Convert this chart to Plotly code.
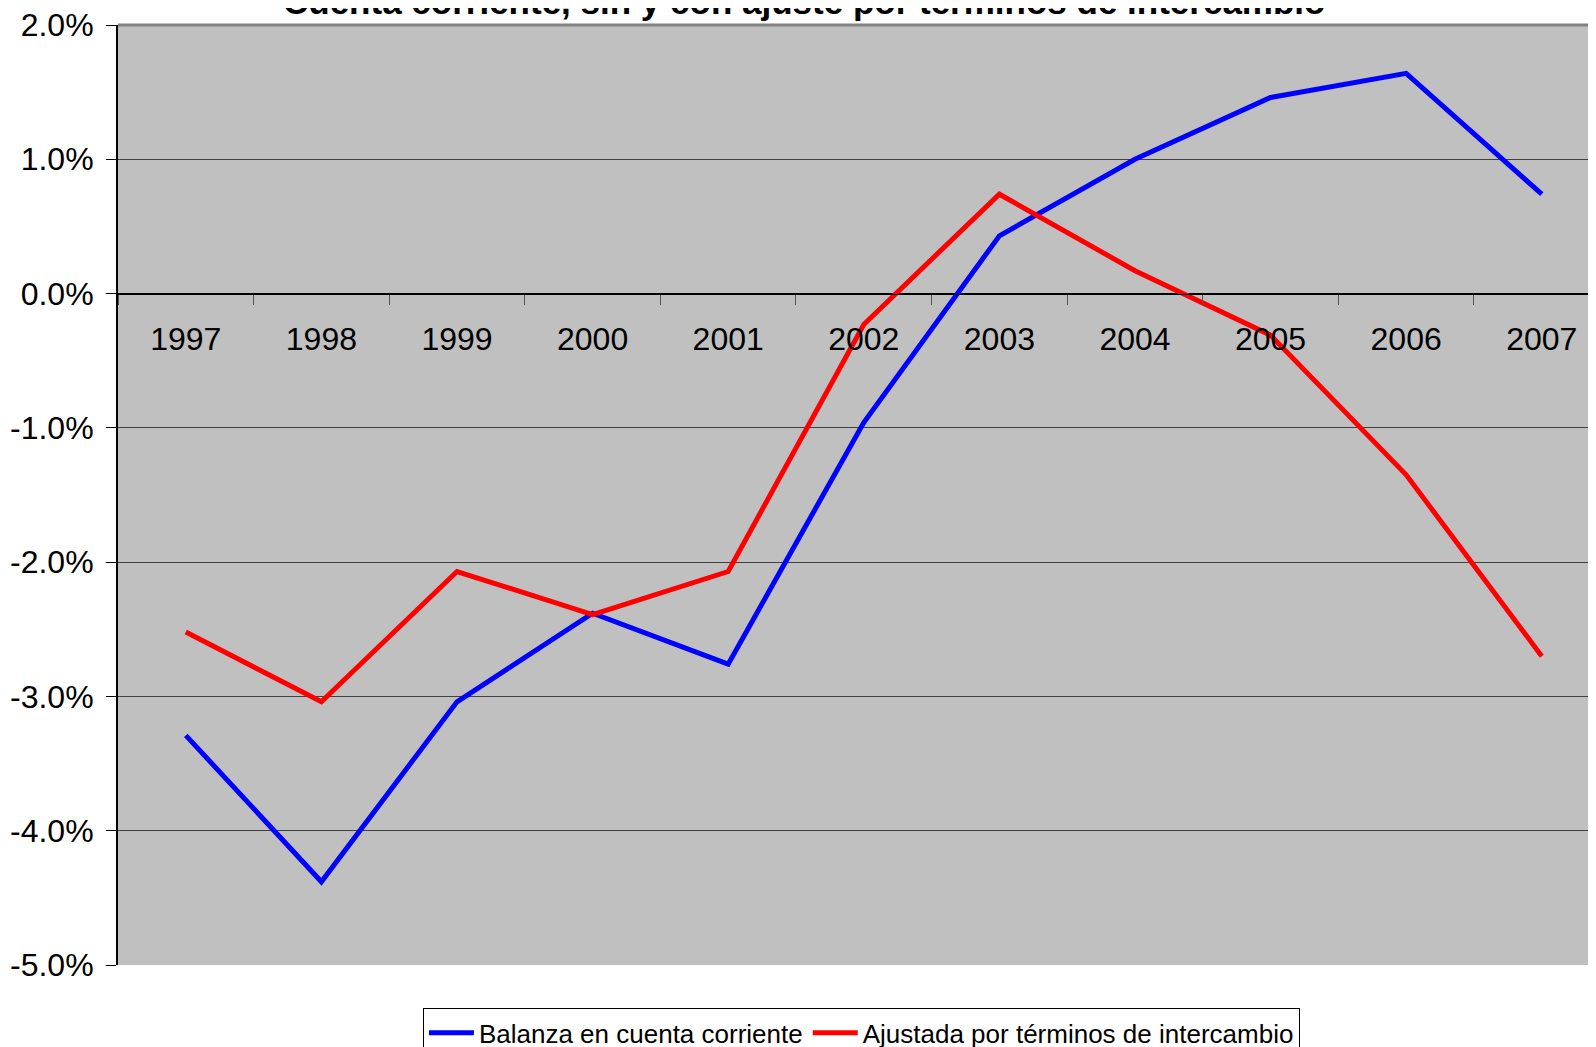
import plotly.graph_objects as go

# data (% of GDP)
years = ["1997", "1998", "1999", "2000", "2001", "2002", "2003", "2004", "2005", "2006", "2007"]
balanza = [-3.29, -4.38, -3.04, -2.38, -2.76, -0.96, 0.43, 1.00, 1.46, 1.64, 0.74]
ajustada = [-2.52, -3.04, -2.07, -2.39, -2.07, -0.23, 0.74, 0.17, -0.31, -1.35, -2.70]

y_ticks = [2, 1, 0, -1, -2, -3, -4, -5]
y_ticktext = ["2.0%", "1.0%", "0.0%", "-1.0%", "-2.0%", "-3.0%", "-4.0%", "-5.0%"]

FONT = "Arial, 'Liberation Sans', sans-serif"

fig = go.Figure()
fig.add_trace(go.Scatter(x=years, y=balanza, mode="lines",
                         name="Balanza en cuenta corriente",
                         line=dict(color="#0000FF", width=5)))
fig.add_trace(go.Scatter(x=years, y=ajustada, mode="lines",
                         name="Ajustada por términos de intercambio",
                         line=dict(color="#FF0000", width=5)))

# page body adds an 8px offset, so the figure is sized to fit the window
fig.update_layout(
    width=1588, height=1039,
    margin=dict(l=110, r=0, t=17, b=82, autoexpand=False),
    paper_bgcolor="white",
    plot_bgcolor="#C0C0C0",
    font=dict(family=FONT, color="black"),
    legend=dict(orientation="h", x=0.503, xanchor="center", y=-0.046, yanchor="top",
                bgcolor="white", bordercolor="black", borderwidth=1,
                itemwidth=45,
                font=dict(size=26, family=FONT, color="black")),
    showlegend=True,
)

# title sits half above the page, as in the reference
fig.add_annotation(text="<b>Cuenta corriente, sin y con ajuste por términos de intercambio</b>",
                   xref="paper", yref="paper", x=0.464, y=1.025,
                   xanchor="center", yanchor="middle", showarrow=False,
                   font=dict(size=35, family=FONT, color="black"))

fig.update_xaxes(
    type="category", range=[-0.5, 10.4],
    anchor="free", position=5/7, automargin=False,
    showgrid=False, showline=True, linecolor="black", linewidth=1,
    ticks="outside", tickson="boundaries", ticklen=10, tickcolor="#555",
    ticklabelstandoff=17,
    tickfont=dict(size=32, family=FONT, color="black"),
)
fig.update_yaxes(
    range=[-5, 2], tickvals=y_ticks, ticktext=y_ticktext, automargin=False,
    showgrid=True, gridcolor="#404040", gridwidth=1,
    zeroline=True, zerolinecolor="black", zerolinewidth=1,
    showline=True, linecolor="black", linewidth=2,
    ticks="outside", ticklen=10, tickcolor="black",
    ticklabelstandoff=6, ticklabeloverflow="allow",
    tickfont=dict(size=32, family=FONT, color="black"),
)

# grey border along the top of the plot area
fig.add_shape(type="line", xref="paper", yref="paper", x0=0, x1=1, y0=1, y1=1,
              line=dict(color="#808080", width=3))

fig.write_html("out.html")
